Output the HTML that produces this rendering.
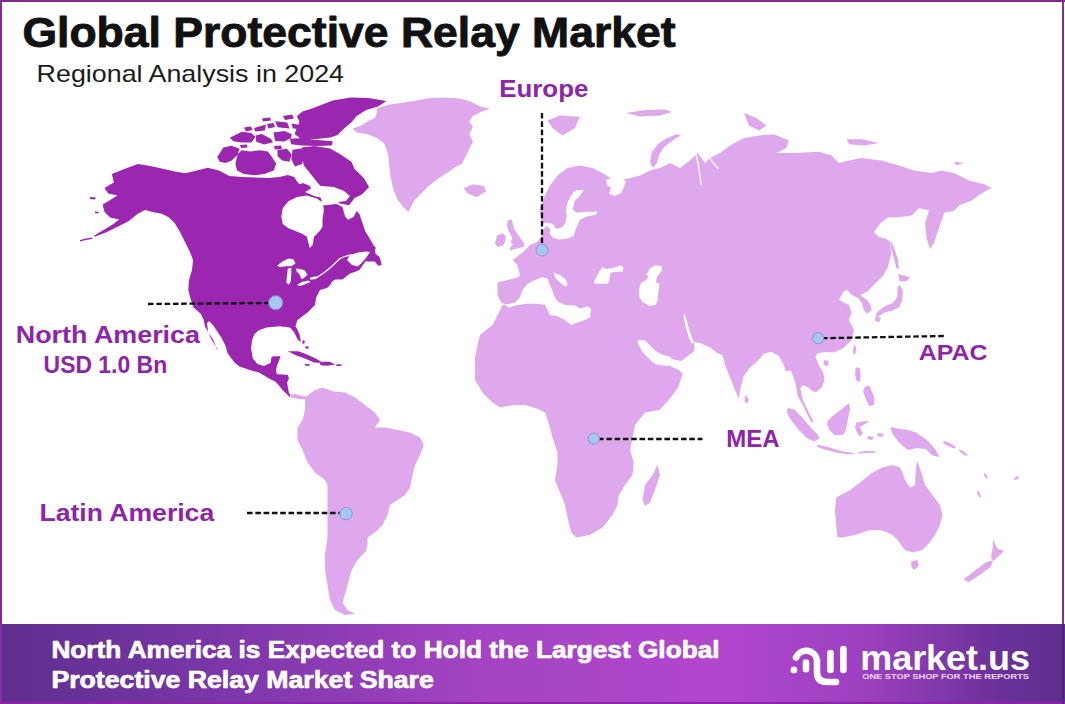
<!DOCTYPE html>
<html><head><meta charset="utf-8"><title>Global Protective Relay Market</title>
<style>
html,body{margin:0;padding:0;background:#fff;}
body{width:1065px;height:704px;overflow:hidden;position:relative;}
svg{position:absolute;left:0;top:0;display:block;}
</style></head><body>
<svg width="1065" height="704" viewBox="0 0 1065 704">
<defs>
<linearGradient id="bandg" x1="0" y1="0" x2="1" y2="0">
  <stop offset="0" stop-color="#5e2e8d"/>
  <stop offset="0.2" stop-color="#7a36a8"/>
  <stop offset="0.45" stop-color="#a443c4"/>
  <stop offset="0.68" stop-color="#b147cd"/>
  <stop offset="0.82" stop-color="#9a3fbf"/>
  <stop offset="0.94" stop-color="#6a3199"/>
  <stop offset="1" stop-color="#5e2e8d"/>
</linearGradient>
</defs>
<rect width="1065" height="704" fill="#fff"/>

<path d="M377.0,108.5 388.0,104.8 401.0,102.9 413.9,101.1 428.7,98.3 443.5,97.4 458.2,98.3 469.3,101.1 480.4,106.6 489.7,108.5 480.4,112.2 473.0,115.9 469.3,121.4 473.0,127.0 469.3,134.3 473.0,141.7 469.3,149.1 465.6,156.5 461.9,163.9 454.6,167.6 447.2,173.1 437.9,178.7 428.7,186.1 421.3,193.5 413.9,200.9 410.2,208.2 408.4,211.9 402.8,206.4 397.3,199.0 393.6,189.8 390.8,178.7 389.9,171.3 389.0,163.9 389.0,158.4 387.1,151.0 384.3,143.6 377.0,138.0 367.7,134.3 356.6,132.5 352.9,128.8 362.2,125.1 367.7,121.4 375.1,117.7 377.0,112.2ZM463.8,187.9 473.0,184.2 484.1,186.1 486.0,191.6 476.7,197.2 467.5,193.5ZM305.0,397.5 315.0,390.0 322.5,387.5 332.5,391.2 345.0,392.5 355.0,397.5 365.0,405.0 375.0,412.5 380.0,420.0 375.0,427.5 385.0,427.5 397.5,430.0 410.0,432.5 420.0,437.5 423.8,445.0 420.0,455.0 415.0,465.0 412.5,475.0 410.0,487.5 405.0,495.0 397.5,500.0 390.0,505.0 387.5,515.0 382.5,525.0 375.0,532.5 367.5,537.5 367.5,545.0 366.0,551.0 361.0,556.0 355.5,562.7 351.0,572.0 347.5,585.0 344.5,596.0 342.7,602.7 347.5,610.0 355.0,613.8 345.0,615.0 335.0,610.0 330.0,600.0 327.5,585.0 325.0,570.0 325.0,555.0 327.5,537.5 327.5,515.0 327.5,495.0 327.5,485.0 325.0,480.0 315.0,472.5 307.5,462.5 302.5,450.0 297.5,440.0 297.5,427.5 302.5,420.0 305.0,410.0ZM290.5,394.5 296.0,394.0 300.0,395.5 305.0,396.0 306.0,399.0 300.0,399.2 295.0,398.2 291.0,397.5ZM507.5,305.0 501.2,302.5 497.5,295.0 497.5,282.5 507.5,280.0 517.5,277.5 520.0,275.0 517.5,265.0 512.5,260.0 522.5,252.5 530.0,245.0 537.0,242.0 541.0,237.0 543.0,230.0 546.0,226.5 542.0,223.5 541.2,223.0 540.0,208.0 545.0,195.5 550.0,185.5 557.5,175.5 567.5,168.0 580.0,165.5 592.5,168.0 602.5,173.0 610.0,178.0 620.0,180.5 630.0,178.0 640.0,175.5 650.0,170.5 660.0,168.0 670.0,163.0 680.0,168.0 690.0,160.5 697.5,153.0 705.0,163.0 710.0,158.0 720.0,153.0 730.0,145.5 744.0,138.0 759.0,135.5 774.0,134.2 789.0,140.5 786.5,148.0 776.5,153.0 794.0,153.0 819.0,151.8 831.5,155.5 839.0,163.0 849.0,160.5 861.5,158.0 881.5,160.5 899.0,165.5 914.0,170.5 931.5,173.0 941.5,170.5 954.0,173.0 969.0,180.5 984.0,184.2 991.5,188.0 986.6,190.6 978.8,195.3 972.5,200.0 969.4,201.6 960.0,204.7 953.8,210.9 944.4,212.5 939.0,228.0 934.0,243.0 930.2,249.2 926.5,238.0 925.2,223.0 929.0,210.5 919.0,208.0 911.6,215.6 899.0,217.2 888.1,217.2 880.3,223.4 874.0,232.0 879.2,237.0 886.0,238.7 890.3,242.1 891.1,254.1 887.7,267.7 882.6,276.2 874.1,284.7 867.3,291.6 860.4,295.0 862.1,296.7 867.3,300.1 870.7,305.2 871.5,310.3 867.3,313.7 863.9,310.3 862.1,303.5 858.7,298.4 851.9,295.0 846.8,289.8 843.4,291.6 839.0,300.0 849.0,305.0 851.5,312.5 849.0,320.0 854.0,330.0 851.5,340.0 844.0,347.5 834.0,352.5 824.5,352.1 817.3,353.3 815.5,356.9 817.3,361.7 819.7,366.6 823.3,372.6 824.5,379.9 822.1,387.1 816.1,391.9 812.5,391.3 807.6,387.1 802.8,385.3 800.4,388.3 801.6,395.6 804.0,402.8 807.6,410.0 811.3,417.3 813.7,422.5 811.5,422.0 808.8,417.3 805.2,410.0 801.6,402.8 798.0,396.8 796.8,390.7 795.6,383.5 793.1,376.2 790.7,370.2 785.9,371.4 783.5,364.2 778.6,355.7 771.4,352.1 764.2,353.3 758.1,360.5 749.7,367.8 743.6,376.2 740.0,390.7 738.8,398.8 735.0,390.0 730.0,377.5 725.0,365.0 722.5,355.0 717.5,350.0 725.0,356.3 717.2,353.1 709.4,346.9 700.0,343.0 693.8,342.2 694.5,347.0 693.8,351.6 687.5,356.3 681.3,360.9 673.4,359.4 669.0,358.0 668.0,364.0 672.0,367.0 678.0,369.5 682.8,373.4 678.1,387.5 668.8,400.0 659.4,410.0 645.0,412.5 635.0,425.0 632.5,437.5 630.0,450.0 633.8,462.5 632.5,475.0 625.0,485.0 618.8,495.0 617.5,505.0 612.5,515.0 602.5,527.5 590.0,535.0 576.2,537.5 571.2,532.5 567.5,517.5 565.0,505.0 560.0,492.5 555.0,480.0 557.5,465.0 557.5,452.5 552.5,437.5 550.0,427.5 545.0,412.5 537.5,408.8 525.0,405.0 512.5,405.0 500.0,407.5 492.5,402.5 482.5,392.5 475.0,380.0 475.0,370.0 475.0,357.5 477.5,345.0 480.0,335.0 492.5,325.0 497.5,315.0 502.5,305.0ZM508.0,220.1 511.8,219.5 513.0,224.5 514.3,229.5 517.4,233.9 520.5,238.3 524.3,243.3 523.6,247.0 518.0,248.3 513.0,249.5 509.3,250.8 510.5,247.0 513.0,244.5 510.5,242.0 512.4,238.3 510.5,234.5 508.6,230.8 506.8,225.8ZM496.8,235.8 502.4,233.3 505.5,235.8 505.5,240.8 503.0,245.8 497.4,247.0 494.9,243.3 496.1,239.5ZM547.5,120.5 560.0,115.5 580.0,116.8 575.0,128.0 562.5,135.5 552.5,128.0ZM650.0,162.0 652.0,152.0 658.0,144.0 667.0,138.0 677.0,134.0 681.0,135.5 672.0,141.0 664.0,147.0 659.0,155.0 657.0,163.0 653.0,168.0ZM626.0,113.0 645.0,110.0 665.0,109.5 672.0,112.0 660.0,115.5 640.0,116.5ZM744.0,113.0 756.5,118.0 766.5,125.5 759.0,130.5 749.0,125.5ZM846.5,139.2 861.5,139.2 879.0,143.0 864.0,145.5 849.0,144.2ZM954.0,161.8 964.0,163.0 956.5,165.5ZM891.1,240.4 894.5,249.0 897.9,259.2 898.8,269.4 896.2,267.7 893.7,257.5 891.1,249.0ZM897.9,274.0 904.7,275.7 910.0,277.5 906.4,281.3 899.6,281.3ZM899.6,284.2 903.0,291.6 902.2,300.1 899.6,306.9 892.8,310.5 884.3,312.5 877.5,317.1 875.5,313.7 884.3,306.5 892.8,303.0 897.5,296.7 897.5,288.1ZM875.8,315.8 880.9,318.0 879.2,322.2 874.9,320.5ZM854.0,345.0 856.5,347.5 855.2,355.0 852.8,352.5ZM824.0,360.0 829.0,361.2 827.8,366.2 823.5,365.0ZM745.0,395.0 748.8,398.8 747.5,403.8 744.5,401.2ZM836.2,497.5 850.0,490.0 860.0,482.5 872.5,472.5 882.5,467.5 892.5,465.0 900.0,467.5 902.5,472.5 905.0,480.0 910.0,487.5 915.0,485.0 916.2,465.0 917.5,461.2 921.2,472.5 925.0,485.0 932.5,495.0 940.0,505.0 942.5,515.0 940.0,525.0 935.0,535.0 927.5,545.0 922.5,550.0 912.5,552.5 905.0,550.0 897.5,540.0 892.5,535.0 887.5,532.5 880.0,530.0 870.0,530.0 855.0,535.0 842.5,537.5 837.5,537.5 836.2,525.0 835.0,510.0ZM911.2,561.2 917.5,560.0 918.8,566.2 913.8,570.0 911.2,566.2ZM993.0,539.0 995.5,545.0 998.0,549.0 1004.0,550.5 1001.0,554.0 997.0,557.5 993.5,561.0 991.0,558.0 992.0,552.0 993.0,546.0ZM963.5,579.5 975.7,570.0 986.5,561.9 993.2,560.5 990.5,567.3 981.1,574.1 968.9,582.2ZM657.5,465.0 660.0,475.0 655.0,490.0 650.0,502.5 645.0,506.2 642.5,500.0 645.0,485.0 652.5,475.0ZM788.0,407.9 794.4,409.5 802.3,417.5 810.3,427.0 816.7,433.4 819.9,438.2 814.0,441.5 806.0,437.5 797.5,428.5 790.0,418.5 786.5,411.5ZM816.7,444.6 827.9,447.0 840.7,451.0 850.2,452.6 856.6,454.2 847.0,454.2 835.9,452.6 824.7,449.4 817.5,447.0ZM858.2,452.3 866.0,451.0 875.8,451.3 875.8,452.8 866.0,453.0 858.2,453.6ZM827.9,420.7 832.7,415.9 839.1,411.1 845.4,406.3 848.6,403.1 850.2,407.9 848.6,415.9 847.0,423.8 845.4,431.8 842.3,435.0 834.3,435.0 829.5,430.2 827.1,423.8ZM856.6,422.2 869.4,420.7 863.0,425.4 859.8,427.0 863.0,433.4 859.8,436.6 856.6,431.8 855.0,427.0ZM855.8,367.2 859.8,368.0 860.6,376.0 859.8,382.3 856.6,380.8 855.0,374.4ZM864.6,387.1 869.4,385.5 874.2,396.7 874.2,404.7 869.4,406.3 866.2,399.9 863.0,391.9ZM890.1,427.0 899.7,429.0 907.7,430.0 916.2,432.5 927.0,440.0 935.1,449.0 939.6,457.0 932.4,455.5 925.7,449.0 916.2,448.0 908.1,450.0 902.7,446.0 897.0,440.0 892.0,433.0ZM944.0,441.0 950.0,443.0 956.0,447.0 954.0,448.5 948.0,446.0 943.0,443.0ZM958.0,449.0 963.0,451.0 968.0,455.0 966.0,456.0 961.0,453.0ZM977.0,490.0 979.5,493.0 981.5,497.5 979.5,497.0 977.0,493.0ZM984.0,473.0 986.5,475.0 988.0,478.5 986.0,478.0 984.0,475.5ZM1014.0,478.0 1018.0,476.0 1019.0,478.5 1015.0,480.0ZM868.0,436.0 874.0,437.0 872.0,440.0 867.0,439.0ZM878.0,433.0 884.0,434.0 882.0,437.0 877.0,436.0Z" fill="#e0a8ec"/>
<path d="M505.0,305.0 515.0,302.5 520.0,297.5 522.5,290.0 527.5,283.8 535.0,280.0 542.5,276.9 547.5,278.8 550.0,285.0 552.5,291.2 555.0,297.5 558.1,301.9 560.0,302.5 565.0,305.0 575.0,305.6 580.0,308.8 587.5,306.2 591.2,308.8 590.0,317.5 585.0,320.0 577.5,322.5 571.2,325.0 565.0,320.0 557.5,316.2 550.0,315.0 547.5,310.0 545.0,305.0 537.5,303.8 527.5,303.8 517.5,305.0 508.8,307.5ZM553.8,272.5 560.0,275.0 566.2,280.0 567.5,285.0 565.0,286.2 560.0,282.5 555.0,277.5ZM593.9,281.9 598.5,272.7 602.2,267.2 606.8,269.0 613.2,268.0 620.6,265.3 623.4,267.2 622.5,271.8 615.1,271.8 610.5,272.7 609.5,280.1 607.7,283.8 601.2,283.8 594.8,283.8ZM646.5,274.5 650.2,268.1 655.7,265.3 662.2,266.2 661.3,271.8 657.6,275.5 655.7,281.9 659.4,283.8 658.5,291.2 657.6,300.4 655.7,305.0 650.2,305.9 642.8,302.2 639.1,296.7 639.1,289.3 640.9,282.9 646.5,280.1 648.3,276.4ZM639.0,339.8 645.3,340.6 651.6,346.9 656.3,351.6 662.5,354.7 671.0,357.0 671.0,365.0 665.6,366.0 656.3,364.5 650.0,360.0 642.2,351.6 637.5,342.2ZM684.5,312.8 688.0,325.0 691.0,335.0 694.0,342.0 692.0,344.0 689.0,338.0 686.0,328.0 683.5,316.0ZM576.7,189.9 583.7,189.9 579.7,195.9 574.7,200.9 573.7,205.8 572.7,209.8 576.7,212.8 585.7,211.8 597.6,211.8 595.6,214.8 585.7,216.8 579.7,219.8 577.7,224.7 575.7,229.7 573.7,235.7 567.8,238.6 559.8,239.6 552.9,237.7 549.5,233.0 551.0,229.0 553.9,228.0 557.8,228.7 562.8,226.7 565.8,221.7 566.8,215.8 565.8,209.8 567.8,201.9 570.8,195.9 573.7,191.9ZM540.0,224.5 546.0,222.8 552.0,223.5 555.0,226.0 554.0,229.5 551.0,231.0 549.0,228.0 547.0,226.3ZM606.0,180.0 612.0,178.0 620.0,179.0 626.0,181.0 624.0,187.0 621.0,193.0 615.0,196.0 609.0,193.5 611.0,188.0 607.0,185.0Z" fill="#fff"/>
<path d="M93.5,236.0 102.7,230.4 111.9,224.9 119.3,219.4 110.1,217.5 104.5,212.0 102.7,204.6 117.5,195.4 108.2,193.5 104.5,188.0 113.8,182.5 111.9,174.1 123.0,169.5 137.8,164.0 148.8,165.8 161.7,168.6 174.7,171.4 185.7,173.2 196.8,170.5 207.9,167.7 219.0,170.5 229.4,176.0 242.4,177.0 255.3,177.5 268.3,178.0 279.6,177.0 287.7,175.0 294.2,177.0 297.4,182.0 305.0,190.0 315.0,191.0 321.0,198.0 322.5,205.5 336.7,204.0 342.4,206.9 345.2,216.8 348.1,219.7 353.8,216.8 356.6,211.1 359.4,214.0 362.3,222.5 365.1,231.0 369.4,238.1 373.6,245.2 376.0,248.0 370.0,256.0 365.0,262.0 361.2,267.5 359.4,270.0 355.2,271.8 350.1,273.5 346.7,276.0 342.4,279.4 335.6,279.4 332.2,281.2 330.5,284.6 327.0,288.0 320.0,290.0 316.2,297.5 315.0,305.0 307.5,312.5 297.5,320.0 295.0,327.5 295.7,326.3 299.6,334.2 300.9,342.1 298.0,340.0 294.0,332.0 290.0,327.5 285.0,327.0 279.9,326.3 266.7,327.6 258.9,330.2 254.5,334.0 252.0,340.0 251.1,349.2 252.9,358.5 257.5,364.0 264.0,365.9 270.5,363.1 271.4,357.5 273.2,356.2 280.6,356.2 278.8,361.2 276.9,365.9 276.0,370.5 276.9,374.2 283.4,374.6 288.0,375.1 288.9,378.8 287.1,382.5 288.0,388.0 288.9,392.6 290.3,395.4 289.9,397.2 286.2,393.6 282.5,389.9 278.8,385.2 275.1,381.6 269.5,378.8 264.9,376.0 258.5,372.3 251.1,370.5 245.5,368.6 240.0,366.8 235.0,363.0 231.0,358.0 227.3,352.6 225.6,346.0 221.5,337.7 217.3,331.5 213.2,325.3 209.0,321.1 207.0,323.2 208.0,331.5 211.1,338.7 215.3,346.0 218.4,350.1 216.5,348.5 213.2,339.8 209.0,333.5 204.9,326.3 203.8,320.1 200.7,313.8 193.5,307.6 190.4,298.3 188.3,290.0 189.0,280.0 192.0,270.0 193.1,260.0 189.4,250.7 185.7,243.4 180.2,232.3 174.7,223.1 169.1,217.5 161.7,213.8 152.5,212.0 145.1,210.1 137.8,213.8 128.5,221.2 117.5,226.7 106.4,232.3 95.3,236.5ZM317.3,106.5 332.8,100.5 350.7,97.5 368.5,98.1 386.4,101.1 378.1,106.5 366.2,110.1 356.6,116.0 351.8,121.9 344.6,128.0 337.6,135.0 330.4,137.5 320.9,138.6 308.9,139.9 300.5,138.6 294.6,133.9 296.9,128.0 299.4,121.9 296.9,116.0 303.0,111.2 311.3,108.8ZM289.9,138.8 301.9,138.1 317.3,139.9 332.9,141.2 331.7,145.4 317.3,146.0 301.9,145.4 291.1,144.2ZM254.1,128.0 266.0,124.5 264.8,130.4 255.3,131.6ZM275.2,121.3 287.2,122.5 289.6,128.5 277.7,127.3ZM291.6,123.5 298.7,124.7 299.9,129.5 292.8,128.3ZM229.8,137.7 241.8,131.7 251.3,132.9 255.5,137.1 251.3,142.4 241.8,142.4 233.4,141.3ZM255.7,135.6 261.8,133.9 270.8,138.7 273.0,142.3 264.1,144.5 256.2,141.7ZM273.4,132.6 284.6,130.9 291.9,134.3 290.8,138.2 284.1,141.6 275.1,141.0ZM217.3,157.1 223.3,147.5 231.7,145.7 239.5,148.7 237.6,154.7 231.7,160.6 225.7,163.1 219.7,161.8ZM237.7,154.2 241.6,150.2 250.0,151.5 259.5,150.2 267.8,151.5 271.4,156.3 276.2,163.4 273.8,170.5 264.2,174.1 254.7,175.3 243.9,174.1 237.1,170.5 235.4,163.4ZM277.5,149.9 287.0,148.7 291.7,154.6 289.4,161.8 282.2,160.6 277.5,155.9ZM292.6,149.7 300.8,148.5 303.9,154.4 302.1,163.9 294.9,166.4 291.3,159.2ZM301.4,147.4 314.4,146.1 330.0,148.5 340.7,154.5 351.4,161.7 354.6,169.0 363.7,178.1 369.1,187.1 361.9,194.4 354.6,198.0 349.1,205.3 340.1,203.5 332.9,198.0 325.6,190.8 318.3,183.5 311.1,174.5 303.9,165.4 301.4,155.9ZM244.0,127.5 251.0,126.5 252.5,130.0 246.0,131.5ZM267.0,124.0 273.5,123.0 275.0,127.0 268.5,128.5ZM240.0,145.0 247.0,144.5 247.5,147.5 241.0,148.0ZM274.0,146.0 281.0,145.5 282.0,149.0 275.0,149.5ZM283.0,116.0 292.0,114.5 294.0,118.5 285.0,120.0ZM262.0,118.5 270.0,117.5 271.0,120.5 263.0,121.5ZM296.0,186.0 303.0,183.0 310.0,186.0 312.0,192.0 305.0,194.0 298.0,192.0ZM365.4,258.1 369.7,255.6 373.1,249.6 374.8,248.8 375.6,253.9 379.1,256.4 380.8,260.7 381.6,265.0 378.2,265.8 374.8,261.5 369.7,261.5 366.3,261.5ZM287.8,351.3 298.3,351.3 308.8,355.2 316.7,359.1 323.3,363.1 314.1,362.6 306.2,359.1 295.7,355.2ZM319.3,361.8 329.8,361.8 335.1,364.4 327.2,365.7 320.6,365.2ZM336.4,364.2 341.7,364.6 341.2,366.0 336.4,365.9ZM305.0,364.0 310.0,364.2 309.0,366.0 305.0,365.6ZM303.0,340.0 305.0,341.0 304.0,344.0 302.0,343.0ZM306.0,346.0 309.0,347.0 308.0,349.0 305.0,348.0ZM90.0,197.0 96.0,197.5 95.0,199.5 90.0,199.0ZM95.0,211.5 99.0,212.0 98.0,213.5 95.0,213.0ZM80.0,240.0 86.0,238.5 92.0,237.5 92.0,239.0 86.0,240.0 80.0,241.5Z" fill="#9b26b0"/>
<path d="M281.3,216.8 282.7,208.3 288.4,201.2 296.9,196.9 306.9,195.5 316.8,198.4 322.5,202.6 323.9,209.7 322.5,219.7 322.5,226.8 319.7,231.0 316.8,233.9 314.0,236.7 312.6,245.2 309.7,248.1 308.3,242.4 306.9,236.7 302.6,233.9 295.5,231.0 288.4,228.2 282.7,223.9ZM305.0,192.0 312.0,188.0 322.0,186.0 334.0,187.0 344.0,191.0 350.0,196.0 346.0,201.0 338.0,202.0 330.0,199.0 322.0,198.0 314.0,196.0ZM350.0,255.0 358.0,252.5 366.0,251.5 370.0,252.0 366.0,258.0 362.0,262.5 358.0,266.5 352.0,265.0 347.0,260.0ZM277.1,265.6 282.8,261.3 288.5,258.5 293.4,259.2 295.6,263.5 291.3,266.3 285.6,266.3 279.9,267.0ZM287.8,268.4 291.3,267.7 291.3,274.8 290.6,281.9 288.5,284.8 286.3,282.6 287.0,275.5ZM295.6,268.4 300.5,269.1 304.8,270.6 307.6,274.8 303.4,278.4 301.2,279.1 299.8,274.8 297.0,272.0ZM297.0,284.8 302.0,281.9 308.4,280.5 310.5,281.9 305.5,284.1 299.8,286.2ZM309.8,277.7 315.5,276.2 318.3,277.0 316.2,279.1 310.5,279.8Z" fill="#fff"/>
<path d="M317.5,277.0 324.0,272.7 331.1,267.0 340.0,258.5 346.0,256.0 351.0,255.0M695.5,153.0 698.0,163.0 699.5,172.0 701.0,184.0M707.0,154.0 711.0,160.0 715.0,165.0 718.0,168.0" fill="none" stroke="#fff" stroke-width="1.3" stroke-linecap="round"/>


<line x1="542" y1="113" x2="542" y2="244" stroke="#111" stroke-width="2.3" stroke-dasharray="5.6 2.7" fill="none"/>
<circle cx="542" cy="250" r="6" fill="#a6c7ef" stroke="#8a93dc" stroke-width="1"/>
<line x1="148" y1="304" x2="270" y2="303" stroke="#111" stroke-width="2.3" stroke-dasharray="5.6 2.7" fill="none"/>
<circle cx="275.7" cy="302.7" r="7" fill="#a6c7ef" stroke="#8a93dc" stroke-width="1"/>
<line x1="822" y1="338.2" x2="945" y2="336" stroke="#111" stroke-width="2.3" stroke-dasharray="5.6 2.7" fill="none"/>
<circle cx="818.2" cy="338.2" r="5.6" fill="#a6c7ef" stroke="#8a93dc" stroke-width="1"/>
<line x1="598" y1="439" x2="702.5" y2="439" stroke="#111" stroke-width="2.3" stroke-dasharray="5.6 2.7" fill="none"/>
<circle cx="593.8" cy="438.7" r="5.6" fill="#a6c7ef" stroke="#8a93dc" stroke-width="1"/>
<line x1="247" y1="513" x2="341" y2="513" stroke="#111" stroke-width="2.3" stroke-dasharray="5.6 2.7" fill="none"/>
<circle cx="346" cy="513.6" r="6.2" fill="#a6c7ef" stroke="#8a93dc" stroke-width="1"/>
<text x="22.4" y="46.6" font-family="'Liberation Sans', sans-serif" font-weight="bold" font-size="42" fill="#111" textLength="653.2" lengthAdjust="spacingAndGlyphs" stroke="#111" stroke-width="0.9" stroke-linejoin="round">Global Protective Relay Market</text>
<text x="36.6" y="81.5" font-family="'Liberation Sans', sans-serif" font-weight="normal" font-size="23.6" fill="#1c1c1c" textLength="307.4" lengthAdjust="spacingAndGlyphs" >Regional Analysis in 2024</text>
<text x="499.2" y="97.4" font-family="'Liberation Sans', sans-serif" font-weight="bold" font-size="23.9" fill="#8e24aa" textLength="89.2" lengthAdjust="spacingAndGlyphs" >Europe</text>
<text x="15.8" y="342.9" font-family="'Liberation Sans', sans-serif" font-weight="bold" font-size="24.3" fill="#8e24aa" textLength="184.2" lengthAdjust="spacingAndGlyphs" >North America</text>
<text x="43.6" y="372.5" font-family="'Liberation Sans', sans-serif" font-weight="bold" font-size="23.6" fill="#8e24aa" textLength="123.6" lengthAdjust="spacingAndGlyphs" >USD 1.0 Bn</text>
<text x="918.8" y="360.4" font-family="'Liberation Sans', sans-serif" font-weight="bold" font-size="22.9" fill="#8e24aa" textLength="68.8" lengthAdjust="spacingAndGlyphs" >APAC</text>
<text x="726.2" y="446.6" font-family="'Liberation Sans', sans-serif" font-weight="bold" font-size="23.3" fill="#8e24aa" textLength="53.4" lengthAdjust="spacingAndGlyphs" >MEA</text>
<text x="39.4" y="521.3" font-family="'Liberation Sans', sans-serif" font-weight="bold" font-size="24.3" fill="#8e24aa" textLength="174.8" lengthAdjust="spacingAndGlyphs" >Latin America</text>


<rect x="0" y="624" width="1065" height="80" fill="url(#bandg)"/>
<text x="51.4" y="657.5" font-family="'Liberation Sans', sans-serif" font-weight="bold" font-size="23.3" fill="#fff" textLength="668.2" lengthAdjust="spacingAndGlyphs" stroke="#fff" stroke-width="0.7" stroke-linejoin="round">North America is Expected to Hold the Largest Global</text>
<text x="51.4" y="687.5" font-family="'Liberation Sans', sans-serif" font-weight="bold" font-size="23.0" fill="#fff" textLength="382.4" lengthAdjust="spacingAndGlyphs" stroke="#fff" stroke-width="0.7" stroke-linejoin="round">Protective Relay Market Share</text>
<g stroke="#fff" stroke-width="6.6" stroke-linecap="round" fill="none">
  <path d="M796,657.5 A11,11 0 0 1 817,660 L817,672 Q817,682 827,682 L836,682"/>
  <line x1="806" y1="662.5" x2="806" y2="669.2"/>
  <line x1="830.4" y1="653" x2="830.4" y2="670"/>
  <line x1="843.4" y1="649" x2="843.4" y2="670"/>
</g>
<circle cx="793.9" cy="669.9" r="3.4" fill="#fff"/>
<text x="860.2" y="669.7" font-family="'Liberation Sans', sans-serif" font-weight="bold" font-size="35.5" fill="#fff" textLength="169.8" lengthAdjust="spacingAndGlyphs" >market.us</text>
<text x="862.2" y="679.4" font-family="'Liberation Sans', sans-serif" font-weight="bold" font-size="6.4" fill="#f3d6f8" textLength="166.8" lengthAdjust="spacingAndGlyphs" >ONE STOP SHOP FOR THE REPORTS</text>

<rect x="0" y="0" width="1065" height="2" fill="#85288f"/>
<rect x="0" y="0" width="2" height="624" fill="#85288f"/>
<rect x="0" y="624" width="2" height="80" fill="#8a2caa"/>
<rect x="0" y="702" width="1065" height="2" fill="#8b24a8"/>
<rect x="1062" y="0" width="2" height="624" fill="#7a3590"/>
<rect x="1062" y="624" width="2" height="80" fill="#512680"/>
</svg>
</body></html>
